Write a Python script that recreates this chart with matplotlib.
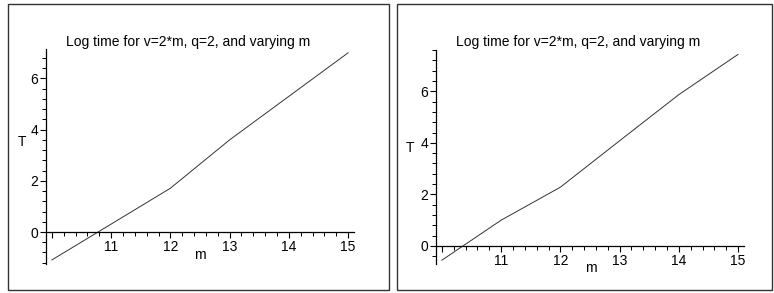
import numpy as np
import matplotlib.pyplot as plt
from matplotlib.patches import Rectangle
from matplotlib.ticker import MultipleLocator, FixedLocator

plt.rcParams['font.family'] = ['Liberation Sans', 'DejaVu Sans']

# data
m = [10, 11, 12, 13, 14, 15]
T_left = [-1.09, 0.31, 1.71, 3.60, 5.30, 7.00]
T_right = [-0.55, 1.00, 2.28, 4.08, 5.87, 7.43]
xticks = [10, 11, 12, 13, 14, 15]
xticklabels = ['', '11', '12', '13', '14', '15']
yticks = [0, 2, 4, 6]
title = 'Log time for v=2*m, q=2, and varying m'

W, H = 774, 293
fig = plt.figure(figsize=(W / 100, H / 100), dpi=100)


def px(x0, y0, x1, y1):
    # pixel box (top-left origin) -> figure fraction rect
    return [x0 / W, 1 - y1 / H, (x1 - x0) / W, (y1 - y0) / H]


def panel(box, axbox, T, ylim, title_xy, ylab, xlab):
    fig.add_artist(Rectangle((box[0] / W, 1 - box[3] / H),
                             (box[2] - box[0]) / W, (box[3] - box[1]) / H,
                             transform=fig.transFigure, fill=False,
                             ec='#333333', lw=1.0))
    ax = fig.add_axes(px(*axbox))
    ax.plot(m, T, color='#333333', lw=0.7)
    ax.set_xlim(9.9, 15.1)
    ax.set_ylim(*ylim)
    for s in ('top', 'right'):
        ax.spines[s].set_visible(False)
    ax.spines['bottom'].set_position(('data', 0))
    for s in ('left', 'bottom'):
        ax.spines[s].set_linewidth(0.9)
    ax.xaxis.set_major_locator(FixedLocator(xticks))
    ax.set_xticklabels(xticklabels)
    ax.xaxis.set_minor_locator(MultipleLocator(0.2))
    ax.yaxis.set_major_locator(FixedLocator(yticks))
    ax.yaxis.set_minor_locator(MultipleLocator(0.4))
    ax.tick_params(which='major', length=4, width=0.8, labelsize=10, pad=1.5)
    ax.tick_params(which='minor', length=3, width=0.7)
    ax.set_ylabel('T', rotation=0, fontsize=10, va='center', ha='center')
    ax.yaxis.set_label_coords(*ylab)
    ax.set_xlabel('m', fontsize=10, va='center')
    ax.xaxis.set_label_coords(*xlab)
    fig.text(title_xy[0] / W, 1 - title_xy[1] / H, title, fontsize=10,
             ha='center', va='center')
    return ax


panel((8, 4, 389, 290), (46, 49, 354, 264), T_left, (-1.25, 7.15),
      (188, 42), (-0.079, 0.569), (0.5, 0.042))
panel((397, 4, 772, 290), (436, 50, 744, 264), T_right, (-0.7, 7.6),
      (578, 42), (-0.084, 0.54), (0.502, -0.019))

fig.savefig('out.png', dpi=100)
